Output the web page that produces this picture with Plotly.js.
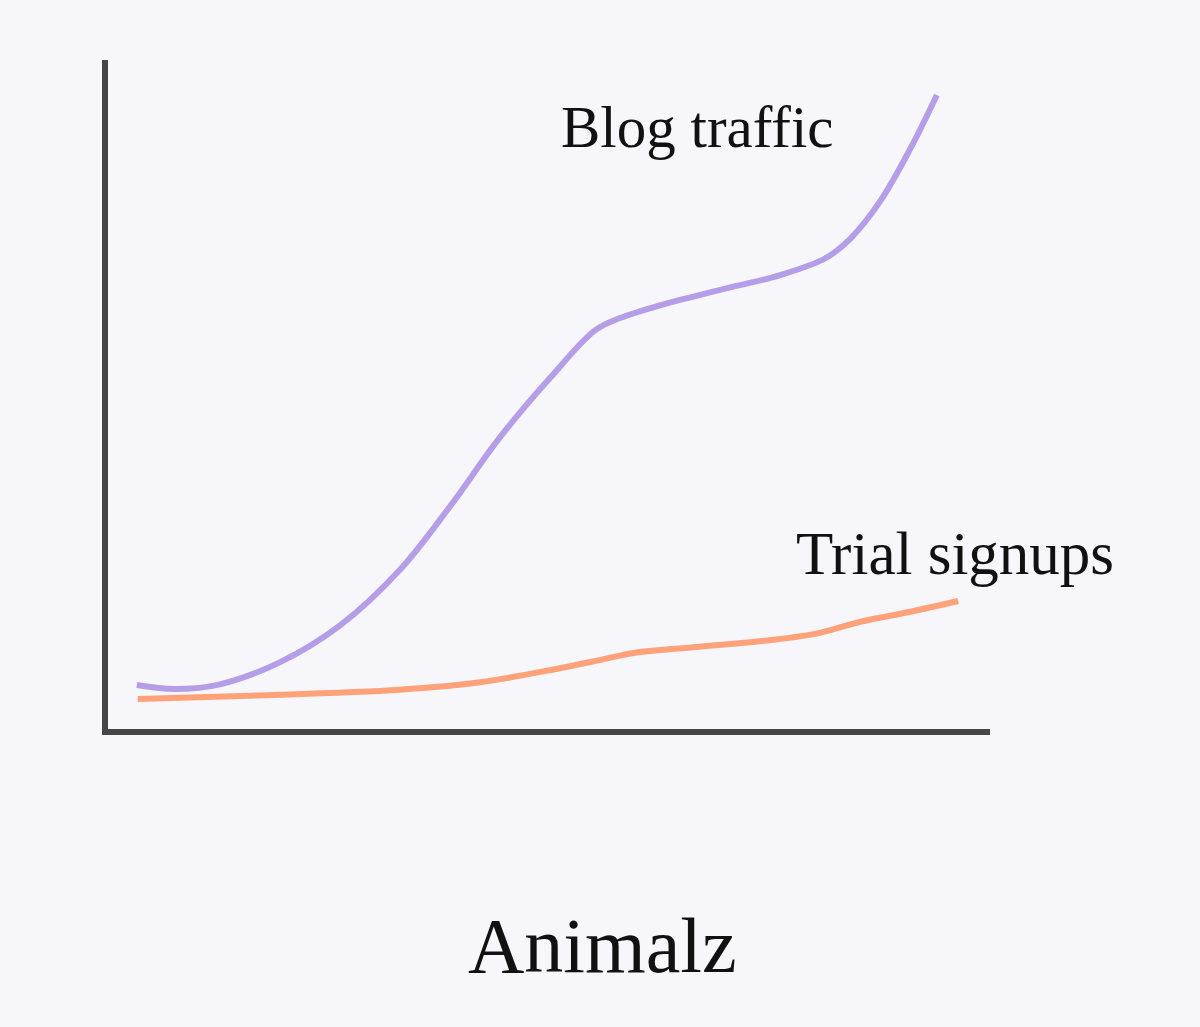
<!DOCTYPE html>
<html>
<head>
<meta charset="utf-8">
<script src="https://cdn.plot.ly/plotly-3.0.1.min.js"></script>
<style>
html,body{margin:0;padding:0;background:#f7f6fb;}
#chart{width:1200px;height:1027px;}
</style>
</head>
<body>
<div id="chart"></div>
<script>
// Conceptual chart: x = time (0-100), y = relative level (0-100)
const blogX = [3.6, 7.9, 13.0, 19.8, 26.6, 33.3, 39.0, 44.6, 50.3, 55.4, 58.2, 62.7, 69.5, 76.3, 81.4, 84.2, 87.6, 91.0, 94.0];
const blogY = [7.0, 6.4, 7.1, 10.4, 15.9, 24.1, 33.6, 43.8, 52.7, 59.8, 61.6, 63.5, 65.8, 68.0, 70.5, 73.4, 79.0, 86.8, 94.8];
const trialX = [3.7, 16.4, 33.3, 42.4, 51.4, 55.9, 59.9, 67.2, 74.0, 80.2, 85.3, 91.0, 96.4];
const trialY = [4.9, 5.4, 6.3, 7.4, 9.5, 10.7, 11.8, 12.7, 13.5, 14.6, 16.4, 17.9, 19.5];
const labels = {blog: "Blog traffic", trial: "Trial signups", brand: "Animalz"};

const traces = [
  {x: blogX, y: blogY, mode: 'lines', line: {color: '#b59ee8', width: 6, shape: 'spline', smoothing: 1}},
  {x: trialX, y: trialY, mode: 'lines', line: {color: '#ffa27a', width: 6, shape: 'spline', smoothing: 1}}
];

const layout = {
  width: 1200, height: 1027,
  paper_bgcolor: '#f7f6fb', plot_bgcolor: '#f7f6fb',
  margin: {l: 108, r: 210, t: 60, b: 298, pad: 0},
  showlegend: false,
  hovermode: false,
  xaxis: {range: [0.34, 100], showline: true, linewidth: 6, linecolor: '#464646', showgrid: false, zeroline: false, showticklabels: false, ticks: ''},
  yaxis: {range: [0.45, 100], showline: true, linewidth: 6, linecolor: '#464646', showgrid: false, zeroline: false, showticklabels: false, ticks: ''},
  annotations: [
    {x: 51.3, y: 90.0, xref: 'x', yref: 'y', text: labels.blog, showarrow: false, xanchor: 'left', yanchor: 'middle',
     font: {family: 'Liberation Serif, serif', size: 59, color: '#111111'}},
    {x: 77.9, y: 26.6, xref: 'x', yref: 'y', text: labels.trial, showarrow: false, xanchor: 'left', yanchor: 'middle',
     font: {family: 'Liberation Serif, serif', size: 61, color: '#111111'}},
    {x: 0.5605, y: -0.324, xref: 'paper', yref: 'paper', text: labels.brand, showarrow: false, xanchor: 'center', yanchor: 'middle',
     font: {family: 'Liberation Serif, serif', size: 78, color: '#111111'}}
  ]
};

Plotly.newPlot('chart', traces, layout, {displayModeBar: false, staticPlot: true});
</script>
</body>
</html>
